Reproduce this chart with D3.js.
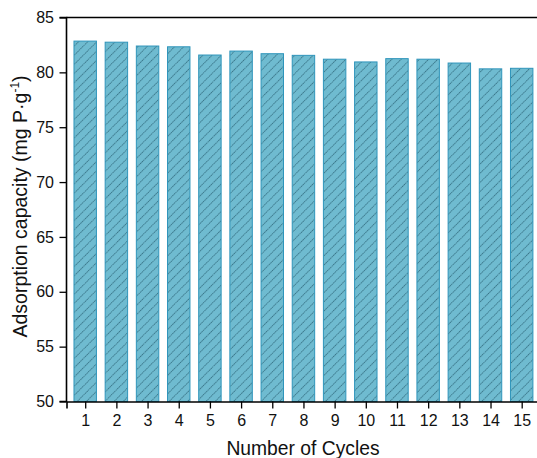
<!DOCTYPE html>
<html><head><meta charset="utf-8">
<script src="https://cdn.jsdelivr.net/npm/d3@7/dist/d3.min.js"></script>
<style>body{margin:0;background:#fff;}svg{display:block;font-family:"Liberation Sans",Arial,sans-serif;}</style>
</head><body><svg id="c" width="537" height="458"></svg>
<script>
const cycles = [1,2,3,4,5,6,7,8,9,10,11,12,13,14,15];
const capacity = [82.85,82.75,82.4,82.33,81.58,81.94,81.7,81.55,81.2,80.95,81.25,81.2,80.85,80.32,80.37];
const yTicks = [50,55,60,65,70,75,80,85];

const svg = d3.select("#c");
const L = 66.5, R = 540.4, T = 17.5, B = 401.5;
const x = d3.scaleLinear().domain([0.4,15.6]).range([L,R]);
const y = d3.scaleLinear().domain([50,85]).range([B,T]);
const bw = x(0.72) - x(0);

const defs = svg.append("defs");
const pat = defs.append("pattern").attr("id","hatch").attr("patternUnits","userSpaceOnUse")
  .attr("width",6.5).attr("height",6.5).attr("patternTransform","rotate(45)");
pat.append("rect").attr("width",6.5).attr("height",6.5).attr("fill","#6fbbd0");
pat.append("line").attr("x1",0.5).attr("y1",0).attr("x2",0.5).attr("y2",6.5)
  .attr("stroke","#30687c").attr("stroke-width",0.9).attr("stroke-dasharray","1.5,0.7").attr("opacity",0.9);

svg.append("g").selectAll("rect").data(cycles).join("rect")
  .attr("x",(d)=>x(d)-bw/2).attr("width",bw)
  .attr("y",(d,i)=>y(capacity[i])).attr("height",(d,i)=>y(50)-y(capacity[i]))
  .attr("fill","url(#hatch)").attr("stroke","#2f95bb").attr("stroke-width",1);

// top border
svg.append("line").attr("x1",L).attr("x2",537).attr("y1",T).attr("y2",T).attr("stroke","#000").attr("stroke-width",1.6);

const ya = svg.append("g").attr("transform",`translate(${L},0)`)
  .call(d3.axisLeft(y).tickValues(yTicks).tickSize(7).tickPadding(5.5));
const xa = svg.append("g").attr("transform",`translate(0,${B})`)
  .call(d3.axisBottom(x).tickValues(cycles).tickSize(7).tickPadding(6).tickFormat(d3.format("d")));
[ya,xa].forEach(g=>{
  g.select(".domain").attr("stroke","#000").attr("stroke-width",1.6);
  g.selectAll(".tick line").attr("stroke","#000").attr("stroke-width",1.3);
  g.selectAll(".tick text").attr("fill","#111").style("font-size","16px").style("font-family","'Liberation Sans',Arial,sans-serif");
});
ya.select(".domain").attr("d",`M-7,${B}H0V${T}H-7`);

svg.append("text").attr("x",303).attr("y",455).attr("text-anchor","middle")
  .style("font-size","19.3px").attr("fill","#111").text("Number of Cycles");

const yl = svg.append("text").attr("transform",`translate(27,206.5) rotate(-90)`)
  .attr("text-anchor","middle").style("font-size","19.5px").attr("fill","#111");
yl.append("tspan").text("Adsorption capacity (mg P·g");
yl.append("tspan").attr("dy",-8).style("font-size","12px").text("-1");
yl.append("tspan").attr("dy",8).text(")");
</script></body></html>
